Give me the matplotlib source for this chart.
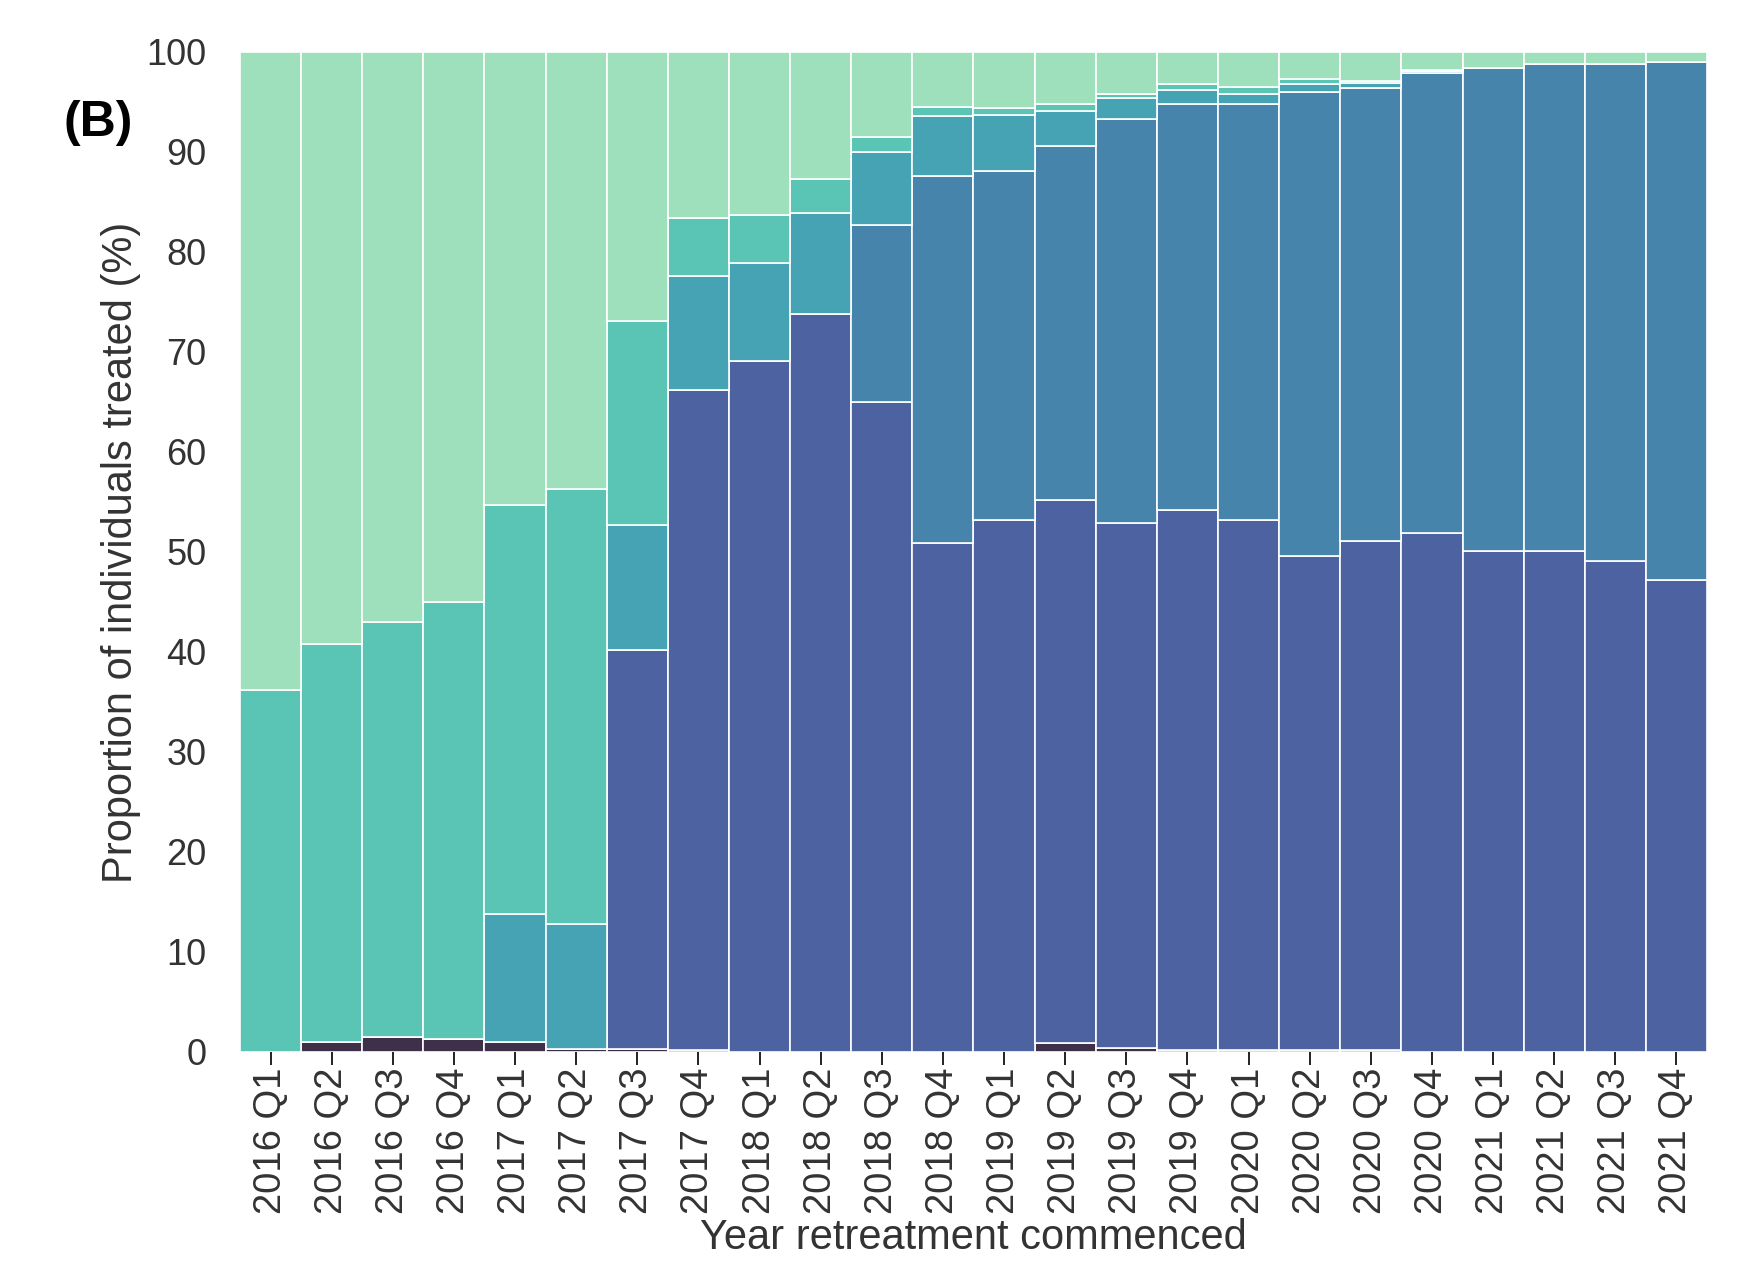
import numpy as np
import matplotlib
matplotlib.use("Agg")
import matplotlib.pyplot as plt

plt.rcParams["font.family"] = ["Liberation Sans", "DejaVu Sans"]

quarters = [
    "2016 Q1", "2016 Q2", "2016 Q3", "2016 Q4",
    "2017 Q1", "2017 Q2", "2017 Q3", "2017 Q4",
    "2018 Q1", "2018 Q2", "2018 Q3", "2018 Q4",
    "2019 Q1", "2019 Q2", "2019 Q3", "2019 Q4",
    "2020 Q1", "2020 Q2", "2020 Q3", "2020 Q4",
    "2021 Q1", "2021 Q2", "2021 Q3", "2021 Q4",
]

# Share of individuals (%) in each treatment group, bottom to top of each stack
group_a = [0.0, 1.0, 1.5, 1.25, 1.0, 0.25, 0.25, 0.15, 0.0, 0.0, 0.0, 0.0,
           0.0, 0.85, 0.35, 0.15, 0.15, 0.15, 0.15, 0.0, 0.0, 0.0, 0.0, 0.0]
group_b = [0.0, 0.0, 0.0, 0.0, 0.0, 0.0, 39.95, 66.05, 69.1, 73.8, 65.0, 50.9,
           53.2, 54.35, 52.55, 54.05, 53.05, 49.45, 50.95, 51.9, 50.1, 50.1, 49.1, 47.2]
group_c = [0.0, 0.0, 0.0, 0.0, 0.0, 0.0, 0.0, 0.0, 0.0, 0.0, 17.7, 36.7,
           34.9, 35.4, 40.4, 40.6, 41.6, 46.4, 45.3, 46.0, 48.3, 48.7, 49.7, 51.8]
group_d = [0.0, 0.0, 0.0, 0.0, 12.8, 12.55, 12.5, 11.4, 9.8, 10.1, 7.3, 6.0,
           5.6, 3.5, 2.1, 1.4, 1.0, 0.8, 0.5, 0.2, 0.0, 0.0, 0.0, 0.0]
group_e = [36.2, 39.8, 41.5, 43.75, 40.9, 43.5, 20.4, 5.8, 4.8, 3.4, 1.5, 0.9,
           0.7, 0.7, 0.4, 0.6, 0.7, 0.5, 0.2, 0.1, 0.0, 0.0, 0.0, 0.0]
group_f = [63.8, 59.2, 57.0, 55.0, 45.3, 43.7, 26.9, 16.6, 16.3, 12.7, 8.5, 5.5,
           5.6, 5.2, 4.2, 3.2, 3.5, 2.7, 2.9, 1.8, 1.6, 1.2, 1.2, 1.0]

groups = [group_a, group_b, group_c, group_d, group_e, group_f]
colors = ["#3f3049", "#4d62a0", "#4684ab", "#46a3b3", "#5ac5b4", "#9edfbc"]

text_color = "#333333"

fig = plt.figure(figsize=(17.49, 12.65), dpi=100)
ax = fig.add_axes([0.1372, 0.1684, 0.8388, 0.7905])

x = np.arange(len(quarters))
bottom = np.zeros(len(quarters))
for vals, col in zip(groups, colors):
    vals = np.asarray(vals, dtype=float)
    ax.bar(x, vals, width=1.0, bottom=bottom, color=col,
           edgecolor="white", linewidth=1.2)
    bottom += vals

ax.set_xlim(-0.5, len(quarters) - 0.5)
ax.set_ylim(0, 100)
ax.set_yticks(np.arange(0, 101, 10))
ax.set_xticks(x)
ax.set_xticklabels(quarters, rotation=90)

for s in ax.spines.values():
    s.set_visible(False)

ax.tick_params(axis="y", length=0, pad=24, labelsize=26, labelcolor=text_color)
ax.tick_params(axis="x", length=9, width=1.4, color="#222222", pad=2,
               labelsize=27.5, labelcolor=text_color)

ax.set_xlabel("Year retreatment commenced", fontsize=30, color=text_color,
              labelpad=3)
ax.set_ylabel("Proportion of individuals treated (%)", fontsize=30,
              color=text_color, labelpad=4)

fig.text(0.056, 0.903, "(B)", fontsize=36, fontweight="bold",
         ha="center", va="center", color="black")

fig.savefig("out.png", dpi=100, facecolor="white")
